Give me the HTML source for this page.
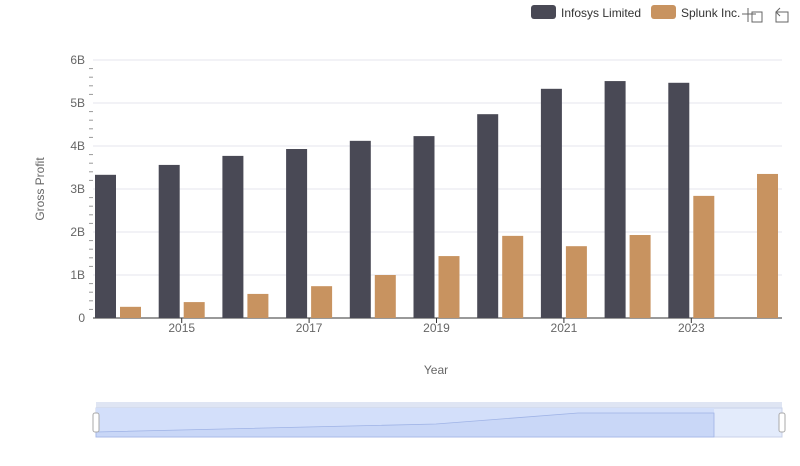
<!DOCTYPE html>
<html><head><meta charset="utf-8"><style>
body{margin:0;background:#fff;font-family:"Liberation Sans",sans-serif}
svg text{font-family:"Liberation Sans",sans-serif}
</style></head><body>
<svg id="c" width="800" height="461">
 <g>
  <g><rect x="531" y="5" width="25" height="14" rx="3" fill="#494955"/><text x="561" y="17" font-size="12" fill="#333">Infosys Limited</text></g>
  <g><rect x="651" y="5" width="25" height="14" rx="3" fill="#c89360"/><text x="681" y="17" font-size="12" fill="#333">Splunk Inc.</text></g>
  <g stroke="#666" fill="none"><path d="M748 8v14M742 14h14M752 12h10v10h-10z"/></g>
  <g stroke="#666" fill="none"><path d="M776 12h12v10h-12zM780 8l-4 4 4 4"/></g>
 </g>
 <text transform="translate(44,189) rotate(-90)" text-anchor="middle" font-size="12" fill="#666">Gross Profit</text>
 <text x="436" y="374" text-anchor="middle" font-size="12" fill="#666">Year</text>
 <g id="grid"></g><g id="bars"></g><g id="axes"></g>
 <g>
  <rect x="96" y="402" width="686" height="6" fill="#dfe5f3"/>
  <rect x="96" y="408" width="686" height="29" fill="#e3ebfb" stroke="#c8d2e8"/>
  <rect x="96" y="408" width="618" height="29" fill="#d3dffa"/>
  <path d="M96 432L436 424L578 413L714 413L714 437L96 437Z" fill="#c9d7f7" stroke="#9fb3e6" stroke-width="0.8"/>
  <rect x="93" y="413" width="6" height="19" rx="2" fill="#fff" stroke="#aaa"/>
  <rect x="779" y="413" width="6" height="19" rx="2" fill="#fff" stroke="#aaa"/>
 </g>
</svg>
<script>
const years=[2014,2015,2016,2017,2018,2019,2020,2021,2022,2023,2024];
const infosys=[3.33,3.56,3.77,3.93,4.12,4.23,4.74,5.33,5.51,5.47,null];
const splunk=[0.26,0.37,0.56,0.74,1.0,1.44,1.91,1.67,1.93,2.84,3.35];
const yTicks=[0,1,2,3,4,5,6];
const yLabels=["0","1B","2B","3B","4B","5B","6B"];
const xLabelYears=[2015,2017,2019,2021,2023];
const NS="http://www.w3.org/2000/svg";
const y=v=>318-v*43;
const x=i=>118+i*63.7;
function mk(t,a,p){const e=document.createElementNS(NS,t);for(const k in a)e.setAttribute(k,a[k]);p.appendChild(e);return e;}
const grid=document.getElementById('grid'),bars=document.getElementById('bars'),axes=document.getElementById('axes');
yTicks.forEach((v,i)=>{
 const l=mk('line',{x1:93,x2:782,y1:y(v),y2:y(v),stroke:v?'#e6e6ee':'#333','stroke-width':1},grid);
 
 
 const t=mk('text',{x:85,y:y(v)+4,'text-anchor':'end','font-size':12,fill:'#666'},axes);
 t.textContent=yLabels[i];
 
 
 if(i<yTicks.length-1)for(let m=1;m<5;m++){const mt=mk('line',{x1:89,x2:93,y1:y(v+m*0.2),y2:y(v+m*0.2),stroke:'#999'},axes);
 
 }
});
years.forEach((yr,i)=>{
 if(infosys[i]!=null){const r=mk('rect',{x:x(i)-23,y:y(infosys[i]),width:21,height:318-y(infosys[i]),fill:'#494955'},bars);
 
 }
 if(splunk[i]!=null){const r=mk('rect',{x:x(i)+2,y:y(splunk[i]),width:21,height:318-y(splunk[i]),fill:'#c89360'},bars);
 
 }
 if(xLabelYears.includes(yr)){
  mk('line',{x1:x(i),x2:x(i),y1:318,y2:323,stroke:'#333'},axes);
  const t=mk('text',{x:x(i),y:332,'text-anchor':'middle','font-size':12,fill:'#666'},axes);
  t.textContent=yr;
  
  
 }
});
</script>
</body></html>
